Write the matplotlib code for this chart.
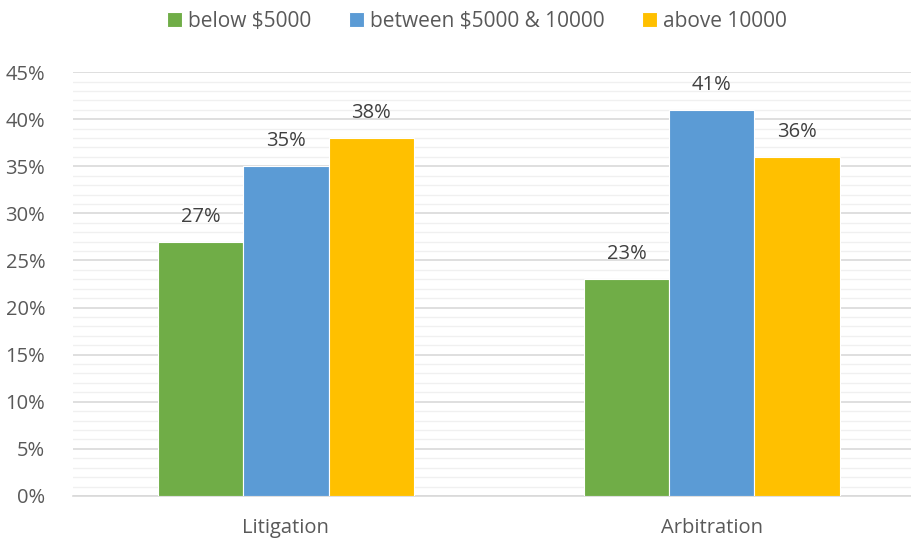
import matplotlib
matplotlib.use("Agg")
import matplotlib.pyplot as plt
import numpy as np
from matplotlib.ticker import MultipleLocator, FuncFormatter

categories = ["Litigation", "Arbitration"]
series_names = ["below $5000", "between $5000 & 10000", "above 10000"]
below_5000 = [27, 23]
between_5000_10000 = [35, 41]
above_10000 = [38, 36]
colors = ["#70AD47", "#5B9BD5", "#FFC000"]

plt.rcParams['font.family'] = ['Open Sans', 'DejaVu Sans']
text_color = "#595959"
fs = 14.5

fig = plt.figure(figsize=(9.12, 5.42), dpi=100)
ax = fig.add_axes([0.080, 0.085, 0.92, 0.782])

x = np.arange(len(categories))
width = 0.2
series = [below_5000, between_5000_10000, above_10000]
for i, (vals, name, c) in enumerate(zip(series, series_names, colors)):
    bars = ax.bar(x + (i - 1) * width, vals, width, color=c, label=name,
                  edgecolor="white", linewidth=0.8, zorder=3)
    for b, v in zip(bars, vals):
        ax.text(b.get_x() + b.get_width() / 2, v + 1.6, f"{v}%",
                ha="center", va="bottom", fontsize=fs, color="#404040")

ax.set_xlim(-0.5, 1.47)
ax.set_ylim(0, 45)
ax.yaxis.set_major_locator(MultipleLocator(5))
ax.yaxis.set_minor_locator(MultipleLocator(1))
ax.yaxis.set_major_formatter(FuncFormatter(lambda v, p: f"{v:.0f}%"))
ax.grid(axis="y", which="major", color="#D9D9D9", linewidth=1.2, zorder=0)
ax.grid(axis="y", which="minor", color="#F0F0F0", linewidth=1.0, zorder=0)
ax.set_xticks(x)
ax.set_xticklabels(categories)
ax.tick_params(axis="both", which="both", length=0, labelsize=fs, colors=text_color)
ax.tick_params(axis="x", pad=16)
ax.tick_params(axis="y", pad=20)
for s in ["top", "right", "left"]:
    ax.spines[s].set_visible(False)
ax.spines["bottom"].set_color("#D9D9D9")
ax.spines["bottom"].set_linewidth(1.2)

leg = fig.legend(loc="upper center", bbox_to_anchor=(0.523, 1.015), ncol=3,
                 frameon=False, fontsize=15, handlelength=0.72, handleheight=0.72,
                 handletextpad=0.3, columnspacing=1.8)
for t in leg.get_texts():
    t.set_color(text_color)

fig.savefig("out.png", dpi=100)
